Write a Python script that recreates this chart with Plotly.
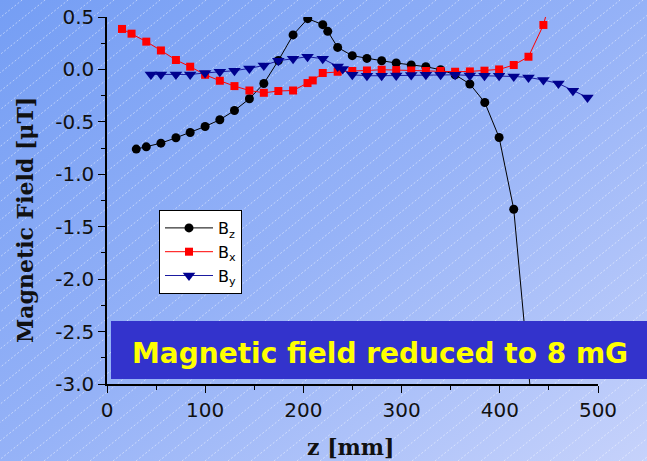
import base64
import plotly.graph_objects as go

# ---- data ----
z_bz = [29.8, 40.0, 54.9, 70.2, 84.7, 99.9, 114.9, 129.8, 145.0, 159.7, 174.5, 189.5,
        204.4, 219.7, 224.8, 234.9, 249.8, 264.7, 279.7, 294.5, 309.8, 324.7, 339.7,
        354.5, 369.5, 384.7, 399.3, 414.2, 431.5]
bz = [-0.760, -0.738, -0.703, -0.652, -0.602, -0.544, -0.480, -0.392, -0.280, -0.134,
      0.085, 0.329, 0.484, 0.427, 0.363, 0.210, 0.131, 0.105, 0.083, 0.061, 0.042,
      0.026, -0.003, -0.051, -0.139, -0.315, -0.649, -1.333, -3.10]

z_bx = [15.3, 25.0, 40.0, 54.9, 70.2, 84.7, 99.9, 114.9, 129.8, 145.0, 159.7, 174.5,
        189.5, 204.2, 209.5, 219.7, 234.9, 249.8, 264.7, 279.7, 294.5, 309.8, 324.7,
        339.7, 354.5, 369.5, 384.4, 399.3, 414.2, 429.2, 444.4, 459.5]
bx = [0.386, 0.341, 0.265, 0.181, 0.090, 0.026, -0.051, -0.108, -0.159, -0.201, -0.223,
      -0.206, -0.201, -0.130, -0.105, -0.034, -0.022, -0.015, -0.010, -0.003, -0.006,
      -0.010, -0.015, -0.015, -0.022, -0.019, -0.012, 0.000, 0.042, 0.121, 0.424, 0.95]

z_by = [44.7, 54.9, 70.2, 84.7, 99.9, 114.9, 129.8, 145.0, 159.7, 174.5, 189.5, 204.2,
        219.7, 234.9, 240.0, 249.8, 264.7, 279.7, 294.5, 309.8, 324.7, 339.7, 354.5,
        369.5, 384.4, 399.3, 414.2, 429.2, 444.4, 459.7, 474.5, 489.3]
by = [-0.048, -0.048, -0.048, -0.048, -0.034, -0.022, -0.012, 0.010, 0.038, 0.083,
      0.102, 0.121, 0.102, 0.029, 0.004, -0.051, -0.060, -0.060, -0.057, -0.053, -0.051,
      -0.051, -0.051, -0.057, -0.060, -0.060, -0.067, -0.076, -0.101, -0.134, -0.203,
      -0.267]

y_tickvals = [0.5, 0.0, -0.5, -1.0, -1.5, -2.0, -2.5, -3.0]
y_ticktext = ["0.5", "0.0", "-0.5", "-1.0", "-1.5", "-2.0", "-2.5", "-3.0"]
x_tickvals = [0, 100, 200, 300, 400, 500]
x_ticktext = ["0", "100", "200", "300", "400", "500"]

W, H = 647, 461
L, R, T, B = 107, 49, 17, 77
pw, ph = W - L - R, H - T - B


def px_x(x):
    return (x - L) / pw


def px_y(y):
    return (H - B - y) / ph


# background: diagonal gradient with dotted white hatch
lines = []
for off in range(-600, 1100, 23):
    lines.append(f'<line x1="{off}" y1="{H}" x2="{off + H / 0.8:.1f}" y2="0"/>')
svg = f'''<svg xmlns="http://www.w3.org/2000/svg" width="{W}" height="{H}" viewBox="0 0 {W} {H}">
<defs><linearGradient id="g" x1="0" y1="0" x2="1" y2="1">
<stop offset="0" stop-color="#759ef4"/><stop offset="0.5" stop-color="#95b2f7"/>
<stop offset="1" stop-color="#c6d2fb"/></linearGradient></defs>
<rect width="{W}" height="{H}" fill="url(#g)"/>
<g stroke="#ffffff" stroke-opacity="0.6" stroke-width="0.8" stroke-dasharray="2,2">{"".join(lines)}</g>
</svg>'''
bg_src = "data:image/svg+xml;base64," + base64.b64encode(svg.encode()).decode()

fig = go.Figure()
fig.add_trace(go.Scatter(
    x=z_bz, y=bz, mode="lines+markers", name="B<sub>z</sub>",
    line=dict(color="black", width=1),
    marker=dict(symbol="circle", size=9, color="black"),
))
fig.add_trace(go.Scatter(
    x=z_bx, y=bx, mode="lines+markers", name="B<sub>x</sub>",
    line=dict(color="#ff0000", width=1),
    marker=dict(symbol="square", size=8, color="#ff0000"),
))
fig.add_trace(go.Scatter(
    x=z_by, y=by, mode="lines+markers", name="B<sub>y</sub>",
    line=dict(color="#1a1aa0", width=1),
    marker=dict(symbol="triangle-down", size=11, color="#00008e"),
))

axis_common = dict(
    showline=True, linecolor="black", linewidth=1.5, mirror=False,
    showgrid=False, zeroline=False, ticks="outside", ticklen=7, tickwidth=1.3,
    tickcolor="black", tickmode="array", automargin=False,
    tickfont=dict(family="DejaVu Sans", size=20, color="#111"),
)
fig.update_xaxes(
    range=[0, 500], tickvals=x_tickvals, ticktext=x_ticktext,
    minor=dict(ticks="outside", ticklen=4, dtick=50, tick0=0, tickcolor="black"),
    **axis_common,
)
fig.update_yaxes(
    range=[-3.0, 0.5], tickvals=y_tickvals, ticktext=y_ticktext,
    minor=dict(ticks="outside", ticklen=4, dtick=0.25, tick0=0, tickcolor="black"),
    **axis_common,
)

# text banner
fig.add_shape(type="rect", xref="paper", yref="paper",
              x0=px_x(111), x1=px_x(660), y0=px_y(379), y1=px_y(321),
              fillcolor="#3333cc", line=dict(width=0), layer="above")
fig.add_annotation(
    text="<b>Magnetic field reduced to 8 mG</b>", xref="paper", yref="paper",
    x=px_x(380), y=px_y(353), xanchor="center", yanchor="middle", showarrow=False,
    font=dict(family="Comic Sans MS, DejaVu Sans", size=28, color="#ffff00"),
)

# axis titles
fig.add_annotation(
    text="<b>Magnetic Field [μT]</b>", xref="paper", yref="paper",
    x=px_x(25), y=px_y(220), xanchor="center", yanchor="middle",
    textangle=-90, showarrow=False,
    font=dict(family="DejaVu Serif", size=22, color="#111"),
)
fig.add_annotation(
    text="<b>z [mm]</b>", xref="paper", yref="paper",
    x=px_x(351), y=px_y(447), xanchor="center", yanchor="middle", showarrow=False,
    font=dict(family="DejaVu Serif", size=22, color="#111"),
)

fig.add_layout_image(
    source=bg_src, xref="paper", yref="paper",
    x=px_x(0), y=px_y(0), sizex=W / pw, sizey=H / ph,
    xanchor="left", yanchor="top", sizing="stretch", layer="below",
)

fig.update_layout(
    template="none",
    width=W, height=H,
    margin=dict(l=L, r=R, t=T, b=B),
    paper_bgcolor="#97b3f7",
    plot_bgcolor="rgba(0,0,0,0)",
    showlegend=True,
    legend=dict(
        x=px_x(159), y=px_y(210), xanchor="left", yanchor="top",
        bgcolor="white", bordercolor="black", borderwidth=1,
        font=dict(family="DejaVu Sans", size=16, color="black"),
        itemwidth=48, tracegroupgap=0,
    ),
)

fig.write_html("out.html", config={"displayModeBar": False},
               post_script="document.body.style.margin='0';")
